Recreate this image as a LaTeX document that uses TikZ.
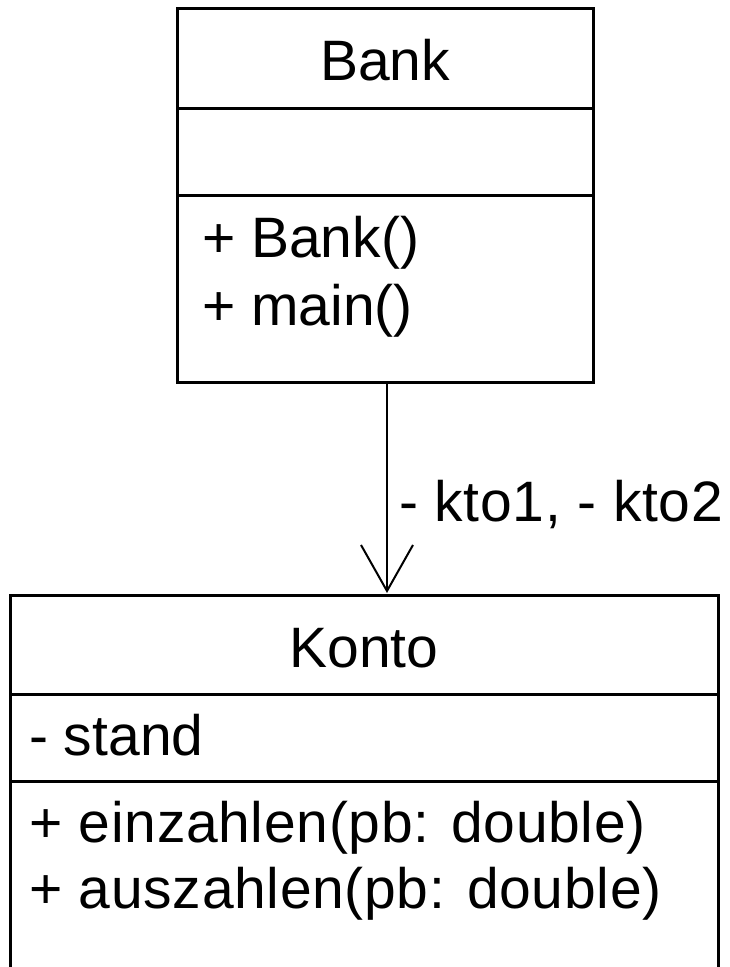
\documentclass[tikz,border=0pt]{standalone}
\usepackage{fontspec}
\setmainfont{Liberation Sans}
\newfontfamily\widesans[LetterSpace=1.2]{Liberation Sans}
\usetikzlibrary{arrows.meta}
\begin{document}
\begin{tikzpicture}[x=1pt,y=-1pt,
  classbox/.style={draw=black, line width=3pt, anchor=north west, inner sep=0pt, outer sep=0pt},
  divider/.style={draw=black, line width=3pt},
  umltext/.style={anchor=base west, inner sep=0pt, font=\fontsize{57}{68}\selectfont},
  widetext/.style={anchor=base west, inner sep=0pt, font=\widesans\fontsize{57}{68}\selectfont},
  umltitle/.style={anchor=base, inner sep=0pt, font=\fontsize{57}{68}\selectfont},
  assoc/.style={draw=black, line width=2pt, -{Straight Barb[length=46pt,width=52pt,line width=2pt]}}
]
\useasboundingbox (0,0) rectangle (729,967);
% Bank class
\node[classbox, minimum width=416pt, minimum height=374pt] (bank) at (177,8) {};
\coordinate (b1l) at (177,108); \coordinate (b1r) at (593,108);
\coordinate (b2l) at (177,195); \coordinate (b2r) at (593,195);
\draw[divider] (b1l) -- (b1r);
\draw[divider] (b2l) -- (b2r);
\node[umltitle] (bankname) at (385,80) {Bank};
\node[umltext] (bankop1) at (202,257) {+ Bank()};
\node[umltext] (bankop2) at (202,325) {+ main()};
% Konto class
\node[classbox, minimum width=708pt, minimum height=420pt] (konto) at (10,595) {};
\coordinate (k1l) at (10,694); \coordinate (k1r) at (718,694);
\coordinate (k2l) at (10,781); \coordinate (k2r) at (718,781);
\draw[divider] (k1l) -- (k1r);
\draw[divider] (k2l) -- (k2r);
\node[umltitle] (kontoname) at (364,667) {Konto};
\node[umltext] (kontoattr) at (29,755) {- stand};
\node[widetext] (kontoop1) at (29,842) {+ einzahlen(pb: double)};
\node[widetext] (kontoop2) at (29,908) {+ auszahlen(pb: double)};
% association
\coordinate (asrc) at (387,382);
\coordinate (adst) at (387,593);
\draw[assoc] (asrc) -- (adst);
\node[widetext] (assoclabel) at (399,521) {- kto1, - kto2};
\end{tikzpicture}
\end{document}
